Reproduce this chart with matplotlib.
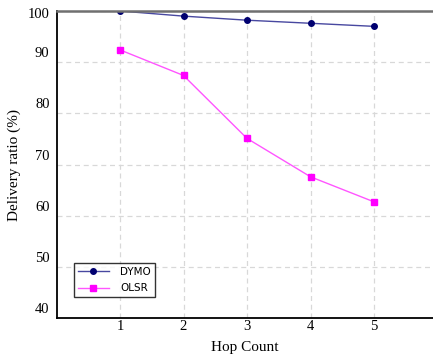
import matplotlib
matplotlib.use("Agg")
import matplotlib.pyplot as plt
import matplotlib.transforms as mtransforms

hops = [1, 2, 3, 4, 5]
dymo = [100.0, 99.0, 98.2, 97.6, 97.0]
olsr = [92.4, 87.4, 75.1, 67.6, 62.7]
yticks = [40, 50, 60, 70, 80, 90, 100]

W, H = 433, 356
fig = plt.figure(figsize=(W / 100, H / 100), dpi=100)
left, right, top, bottom = 56.5, 437.5, 11, 318
ax = fig.add_axes([left / W, 1 - bottom / H, (right - left) / W, (bottom - top) / H])

ax.plot(hops, dymo, color="#4848a0", lw=1.0, marker="o", ms=4,
        markerfacecolor="#000070", markeredgecolor="#000070", label="DYMO")
ax.plot(hops, olsr, color="#ff55ff", lw=1.0, marker="s", ms=4.5,
        markerfacecolor="#ff00ff", markeredgecolor="#ff00ff", label="OLSR")

ax.set_xlim(0, 6)
ax.set_ylim(40, 100)
ax.set_xticks(hops)
ax.set_yticks(yticks)
ax.grid(True, color="#d8d8d8", linestyle=(0, (4, 3)), lw=0.9)
ax.set_axisbelow(True)

for s in ["left", "bottom"]:
    ax.spines[s].set_color("black")
    ax.spines[s].set_linewidth(1.3)
ax.spines["top"].set_color("#707070")
ax.spines["top"].set_linewidth(1.8)
ax.spines["right"].set_visible(False)

ax.tick_params(length=0, labelsize=10.5)
ax.tick_params(axis="x", pad=1.5)
ax.tick_params(axis="y", pad=5)
for lab in ax.get_xticklabels() + ax.get_yticklabels():
    lab.set_fontfamily("Liberation Serif")
for lab, v in zip(ax.get_yticklabels(), yticks):
    dy = -2 if v == 100 else 10
    off = mtransforms.ScaledTranslation(0, dy / 100, fig.dpi_scale_trans)
    lab.set_transform(lab.get_transform() + off)

ax.set_xlabel("Hop Count", fontfamily="Liberation Serif", fontsize=11, va="center")
ax.xaxis.set_label_coords((245 - left) / (right - left), (bottom - 347) / (bottom - top))
fig.text(14 / W, 1 - 165 / H, "Delivery ratio (%)", rotation=90, ha="center", va="center",
         fontfamily="Liberation Serif", fontsize=11)

leg = ax.legend(loc="lower left", bbox_to_anchor=((74 - left) / (right - left), (bottom - 297) / (bottom - top)),
                frameon=True, fancybox=False, borderaxespad=0,
                handlelength=3.0, borderpad=0.35, labelspacing=0.6, handletextpad=1.1,
                prop={"family": "DejaVu Sans", "size": 7.5})
leg.get_frame().set_edgecolor("black")
leg.get_frame().set_linewidth(1.0)

fig.savefig("out.png", dpi=100)
